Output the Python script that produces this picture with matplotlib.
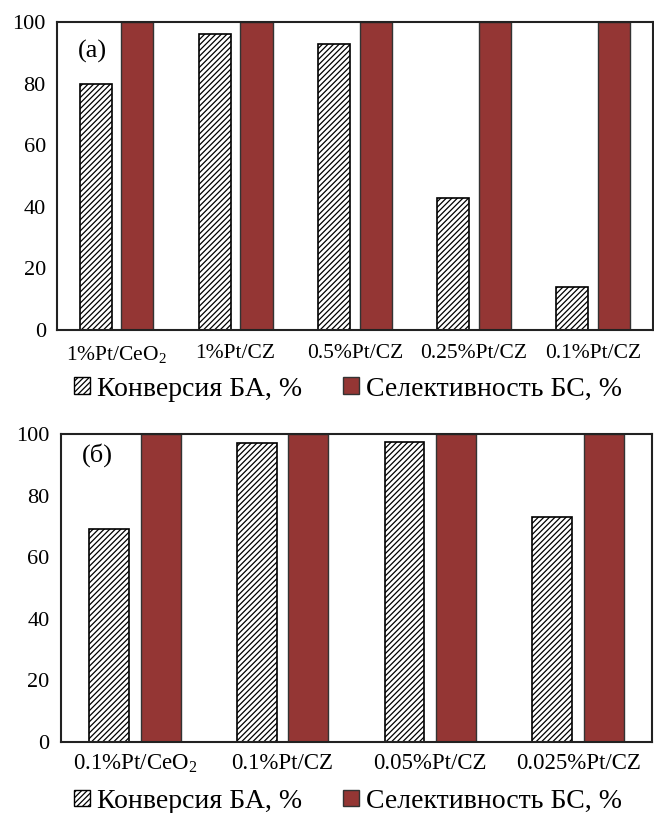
import numpy as np
import matplotlib
matplotlib.use('Agg')
import matplotlib.pyplot as plt
from matplotlib.patches import Patch

plt.rcParams['font.family'] = ['Liberation Serif', 'DejaVu Serif']
plt.rcParams['mathtext.fontset'] = 'custom'
plt.rcParams['mathtext.rm'] = 'Liberation Serif'
plt.rcParams['mathtext.default'] = 'regular'
plt.rcParams['hatch.linewidth'] = 0.9

cats_a = ['1%Pt/CeO$_2$', '1%Pt/CZ', '0.5%Pt/CZ', '0.25%Pt/CZ', '0.1%Pt/CZ']
conv_a = [80, 96, 93, 43, 14]
sel_a = [100, 100, 100, 100, 100]

cats_b = ['0.1%Pt/CeO$_2$', '0.1%Pt/CZ', '0.05%Pt/CZ', '0.025%Pt/CZ']
conv_b = [69, 97, 97.5, 73]
sel_b = [100, 100, 100, 100]

labels = ['Конверсия БА, %', 'Селективность БС, %']
red = '#943634'

fig = plt.figure(figsize=(6.54, 8.13), dpi=100)
ax_a = fig.add_axes([0.087, 0.594, 0.911, 0.379])
ax_b = fig.add_axes([0.093, 0.0873, 0.904, 0.379])


def draw(ax, cats, conv, sel, tag, tag_y, xfs, xpad):
    x = np.arange(len(cats))
    w = 0.27
    ax.bar(x - 0.175, conv, w, color='white', edgecolor='black', hatch='//////', linewidth=1.2)
    ax.bar(x + 0.175, sel, w, color=red, edgecolor='#333333', linewidth=1.0)
    ax.set_xlim(-0.5, len(cats) - 0.5)
    ax.set_ylim(0, 100)
    ax.set_yticks([0, 20, 40, 60, 80, 100])
    ax.set_xticks(x)
    ax.set_xticklabels(cats, fontsize=xfs)
    ax.tick_params(axis='x', length=0, pad=xpad)
    ax.tick_params(axis='y', length=0, pad=8, labelsize=16)
    for s in ax.spines.values():
        s.set_linewidth(1.5)
        s.set_color('#222222')
    ax.text(0.035, tag_y, tag, transform=ax.transAxes,
            fontsize=19, va='center', ha='left')


draw(ax_a, cats_a, conv_a, sel_a, '(a)', 0.905, 15.5, 10)
draw(ax_b, cats_b, conv_b, sel_b, '(б)', 0.93, 16.5, 8)

handles = [Patch(facecolor='white', edgecolor='black', hatch='//////', linewidth=1.0),
           Patch(facecolor=red, edgecolor='#333333', linewidth=1.0)]
for y in [0.5215, 0.0145]:
    fig.legend(handles, labels, loc='center', bbox_to_anchor=(0.532, y), ncol=2,
               frameon=False, fontsize=20, handlelength=0.55, handleheight=0.55,
               handletextpad=0.25, columnspacing=1.5, borderpad=0, borderaxespad=0)

fig.savefig('out.png', dpi=100)
